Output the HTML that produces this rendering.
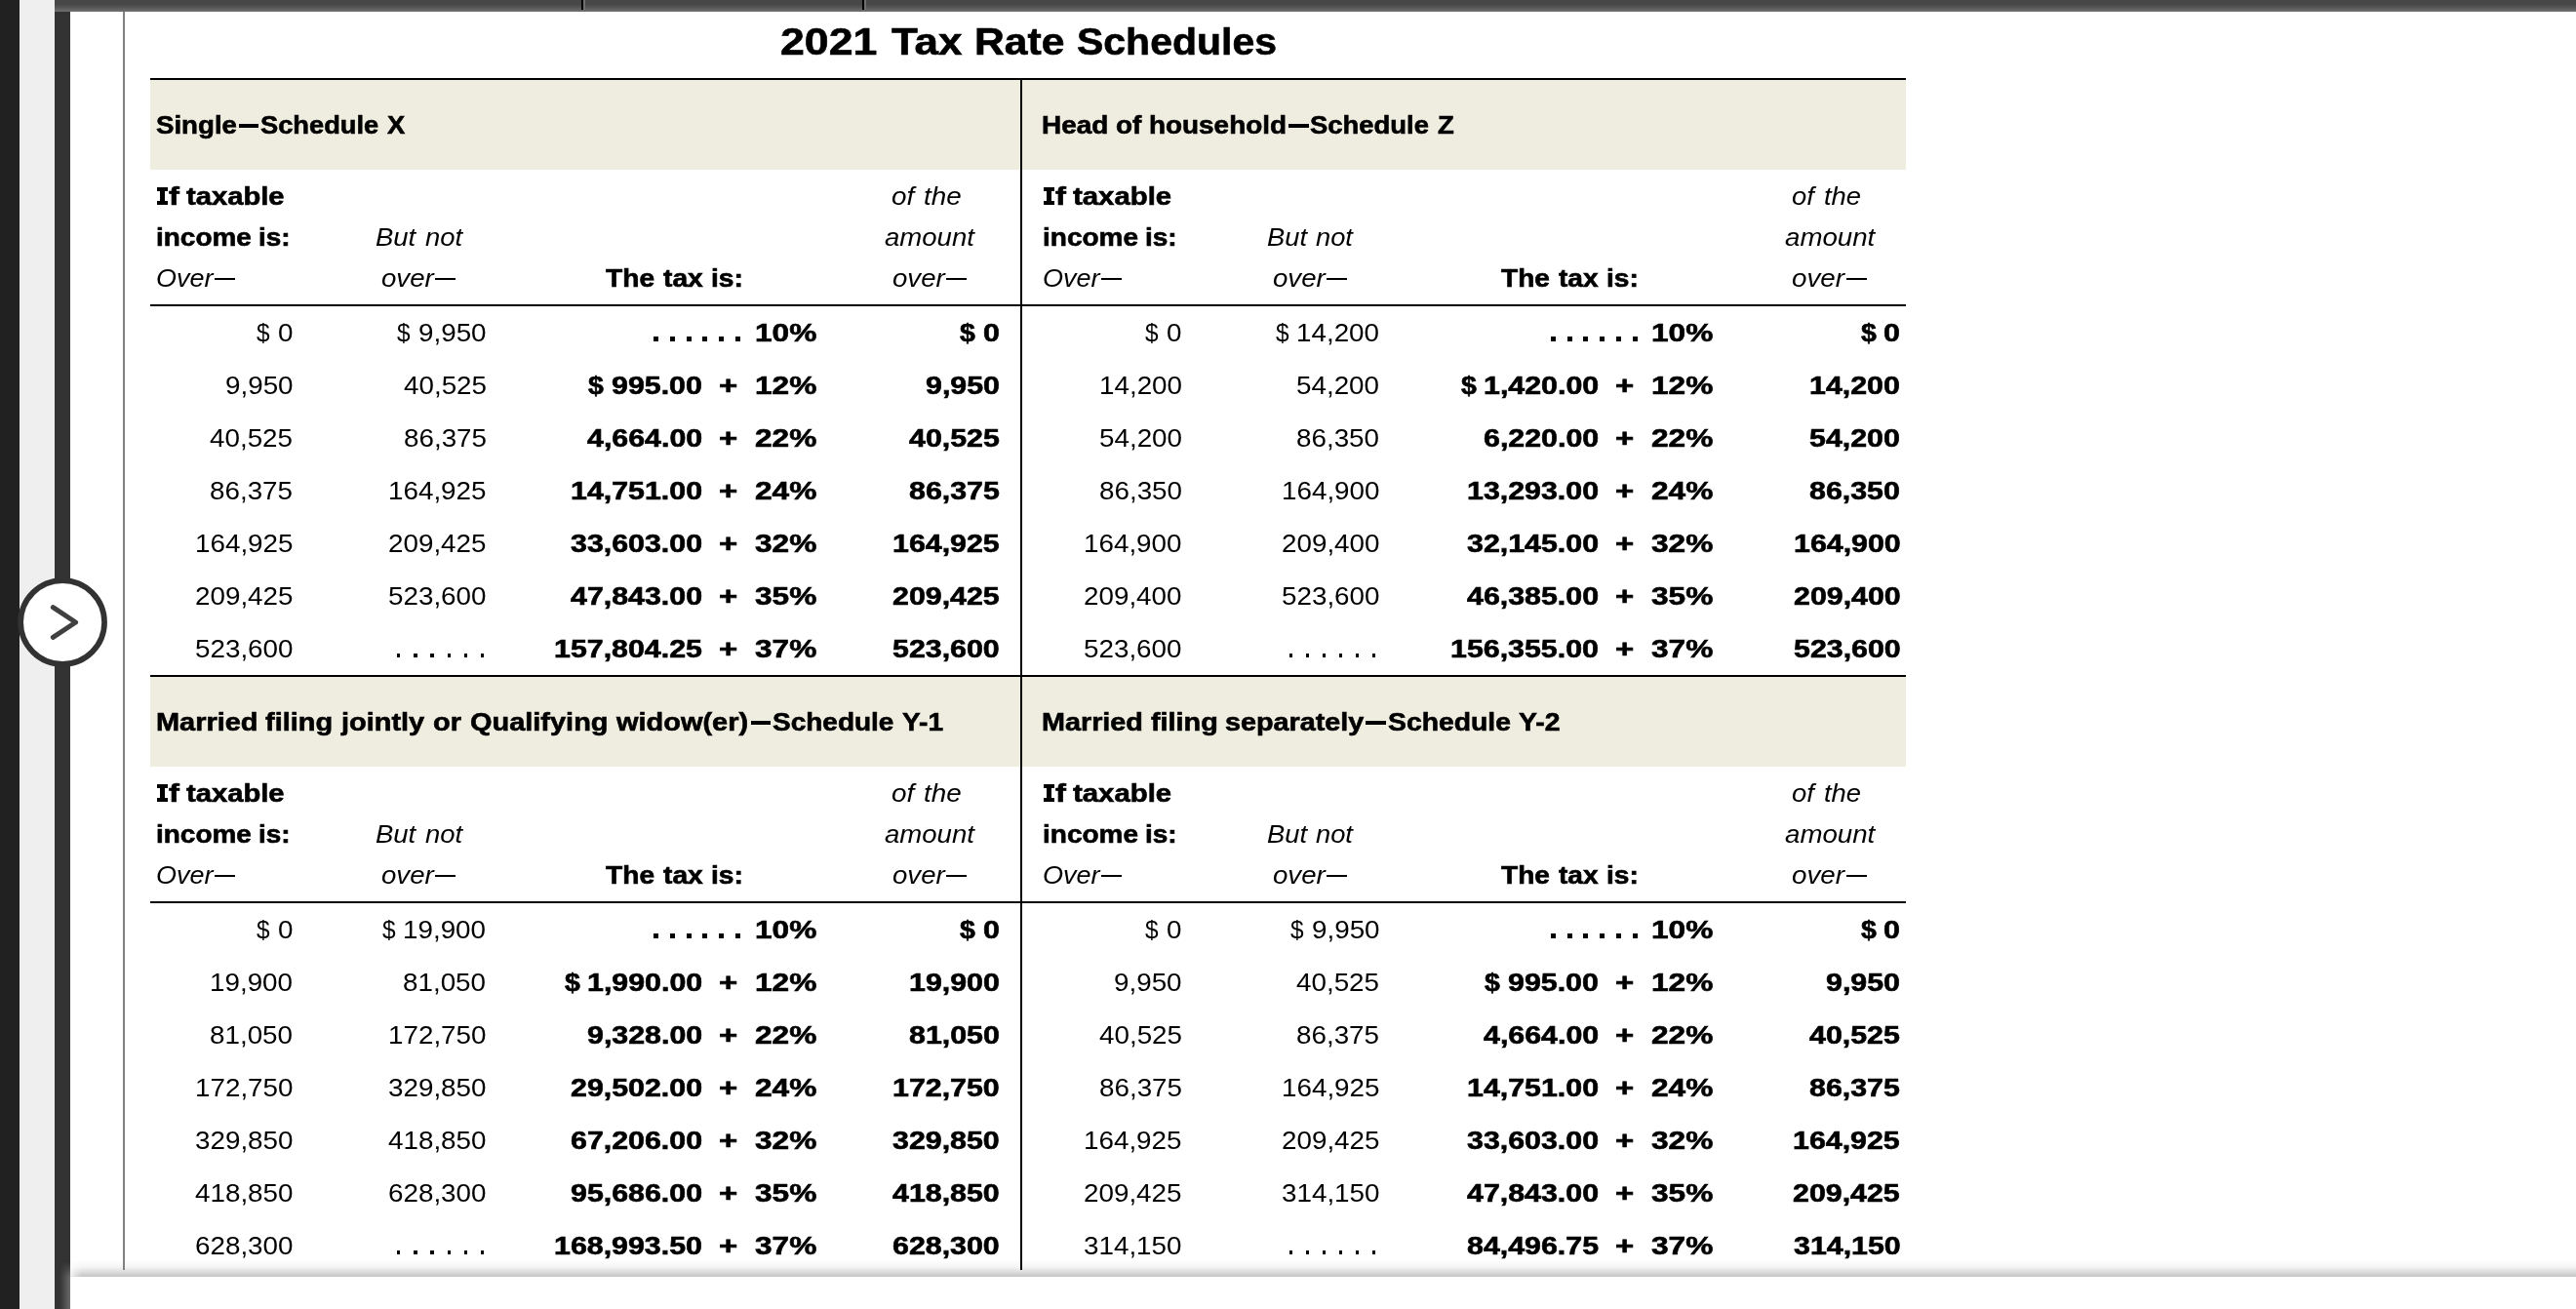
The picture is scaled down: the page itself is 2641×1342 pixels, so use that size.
<!DOCTYPE html>
<html><head><meta charset="utf-8"><title>2021 Tax Rate Schedules</title>
<style>
html,body{margin:0;padding:0;width:2641px;height:1342px;overflow:hidden;background:#fff}
body{position:relative;font-family:"Liberation Sans",sans-serif}
.a{position:absolute;display:block}
.t{position:absolute;white-space:pre;line-height:0;font-family:"Liberation Sans",sans-serif;font-size:25.4px;color:#000;transform-origin:0 0}
.b{font-weight:bold;-webkit-text-stroke:0.6px #000}
.i{font-style:italic}
.d{position:absolute;display:block;background:#000}
</style></head>
<body>
<!-- browser chrome -->
<div class="a" style="left:0;top:0;width:20px;height:1342px;background:#212121"></div>
<div class="a" style="left:20px;top:0;width:36px;height:1342px;background:#efefef"></div>
<div class="a" style="left:56px;top:0;width:16px;height:1342px;background:#333"></div>
<div class="a" style="left:56px;top:0;width:2585px;height:12px;background:linear-gradient(#474747 0,#474747 35%,#525252 58%,#666 85%,#6e6e6e 100%)"></div>
<div class="a" style="left:596px;top:0;width:2px;height:10px;background:#000"></div>
<div class="a" style="left:598px;top:0;width:2px;height:10px;background:#707070"></div>
<div class="a" style="left:884px;top:0;width:2px;height:10px;background:#000"></div>
<div class="a" style="left:886px;top:0;width:2px;height:10px;background:#707070"></div>
<div class="a" style="left:72px;top:1292px;width:2569px;height:17px;background:linear-gradient(rgba(0,0,0,0) 0,rgba(0,0,0,.04) 40%,rgba(0,0,0,.15) 75%,rgba(0,0,0,.23) 100%);-webkit-mask-image:linear-gradient(to right,rgba(0,0,0,.25) 0,#000 12px);mask-image:linear-gradient(to right,rgba(0,0,0,.25) 0,#000 12px)"></div>
<div class="a" style="left:126px;top:12px;width:2px;height:1290px;background:#808080"></div>
<div class="a" style="left:61px;top:1294px;width:11px;height:48px;background:linear-gradient(to right,rgba(255,255,255,0),rgba(255,255,255,.27));-webkit-mask-image:linear-gradient(to bottom,transparent 0,#000 32%);mask-image:linear-gradient(to bottom,transparent 0,#000 32%)"></div>
<!-- nav button -->
<svg class="a" style="left:18px;top:591px" width="94" height="94" viewBox="0 0 94 94">
<circle cx="46.1" cy="47" r="42.95" fill="#fff" stroke="#323232" stroke-width="5.7"/>
<polyline points="36.4,31.6 59.6,47 36.4,62.4" fill="none" stroke="#404040" stroke-width="5" stroke-linecap="round" stroke-linejoin="round"/>
</svg>
<!-- table structure -->
<div class="a" style="left:154px;top:80px;width:1800px;height:2px;background:#000"></div>
<div class="a" style="left:154px;top:82px;width:1800px;height:92px;background:#efeddf"></div>
<div class="a" style="left:154px;top:312px;width:1800px;height:2px;background:#000"></div>
<div class="a" style="left:154px;top:692px;width:1800px;height:2px;background:#000"></div>
<div class="a" style="left:154px;top:694px;width:1800px;height:92px;background:#efeddf"></div>
<div class="a" style="left:154px;top:924px;width:1800px;height:2px;background:#000"></div>
<div class="a" style="left:1046px;top:82px;width:2px;height:1220px;background:#000"></div>
<div class="a" style="left:0;top:0;width:2641px;height:1342px;will-change:transform">
<div class="t b" style="left:800.35px;top:43px;font-size:38.4px;transform:scaleX(1.1638)">2021</div>
<div class="t b" style="left:913.61px;top:43px;font-size:38.4px;transform:scaleX(1.1455)">Tax</div>
<div class="t b" style="left:998.94px;top:43px;font-size:38.4px;transform:scaleX(1.1118)">Rate</div>
<div class="t b" style="left:1104.12px;top:43px;font-size:38.4px;transform:scaleX(1.0674)">Schedules</div>
<div class="t b" style="left:159.90px;top:128px;transform:scaleX(1.0887)">Single</div>
<div class="t b" style="left:267.21px;top:128px;transform:scaleX(1.0738)">Schedule</div>
<div class="t b" style="left:397.45px;top:128px;transform:scaleX(1.0738)">X</div>
<div class="t b" style="left:172.74px;top:201px;transform:scaleX(1.2886)">f</div>
<div class="t b" style="left:190.64px;top:201px;transform:scaleX(1.1491)">taxable</div>
<div class="t b" style="left:159.85px;top:243px;transform:scaleX(1.1006)">income</div>
<div class="t b" style="left:264.98px;top:243px;transform:scaleX(1.1006)">is:</div>
<div class="t i" style="left:159.54px;top:285px;transform:scaleX(1.0624)">Over</div>
<div class="t i" style="left:385.45px;top:243px;transform:scaleX(1.0816)">But</div>
<div class="t i" style="left:435.87px;top:243px;transform:scaleX(1.0816)">not</div>
<div class="t i" style="left:390.70px;top:285px;transform:scaleX(1.0887)">over</div>
<div class="t b" style="left:621.18px;top:285px;transform:scaleX(1.1108)">The</div>
<div class="t b" style="left:680.22px;top:285px;transform:scaleX(1.1108)">tax</div>
<div class="t b" style="left:729.00px;top:285px;transform:scaleX(1.1108)">is:</div>
<div class="t i" style="left:913.89px;top:201px;transform:scaleX(1.0980)">of</div>
<div class="t i" style="left:946.98px;top:201px;transform:scaleX(1.0980)">the</div>
<div class="t i" style="left:907.38px;top:243px;transform:scaleX(1.0847)">amount</div>
<div class="t i" style="left:914.90px;top:285px;transform:scaleX(1.0867)">over</div>
<div class="t" style="left:284.62px;top:341px;transform:scaleX(1.0950)">0</div>
<div class="t" style="left:262.54px;top:341px;transform:scaleX(0.9600)">$</div>
<div class="t" style="left:428.91px;top:341px;transform:scaleX(1.0950)">9,950</div>
<div class="t" style="left:407.05px;top:341px;transform:scaleX(0.9600)">$</div>
<div class="t b" style="left:774.06px;top:341px;transform:scaleX(1.2450)">10%</div>
<div class="t b" style="left:1007.87px;top:341px;transform:scaleX(1.1954)">0</div>
<div class="t b" style="left:984.05px;top:341px;transform:scaleX(1.1200)">$</div>
<div class="t" style="left:230.51px;top:395px;transform:scaleX(1.0950)">9,950</div>
<div class="t" style="left:413.53px;top:395px;transform:scaleX(1.0950)">40,525</div>
<div class="t b" style="left:627.31px;top:395px;transform:scaleX(1.1954)">995.00</div>
<div class="t b" style="left:603.35px;top:395px;transform:scaleX(1.1200)">$</div>
<div class="t b" style="left:737.42px;top:395px;transform:scaleX(1.2960)">+</div>
<div class="t b" style="left:774.06px;top:395px;transform:scaleX(1.2450)">12%</div>
<div class="t b" style="left:948.79px;top:395px;transform:scaleX(1.1954)">9,950</div>
<div class="t" style="left:215.13px;top:449px;transform:scaleX(1.0950)">40,525</div>
<div class="t" style="left:413.53px;top:449px;transform:scaleX(1.0950)">86,375</div>
<div class="t b" style="left:602.00px;top:449px;transform:scaleX(1.1954)">4,664.00</div>
<div class="t b" style="left:737.42px;top:449px;transform:scaleX(1.2960)">+</div>
<div class="t b" style="left:774.06px;top:449px;transform:scaleX(1.2450)">22%</div>
<div class="t b" style="left:931.51px;top:449px;transform:scaleX(1.1954)">40,525</div>
<div class="t" style="left:215.13px;top:503px;transform:scaleX(1.0950)">86,375</div>
<div class="t" style="left:398.07px;top:503px;transform:scaleX(1.0950)">164,925</div>
<div class="t b" style="left:585.12px;top:503px;transform:scaleX(1.1954)">14,751.00</div>
<div class="t b" style="left:737.42px;top:503px;transform:scaleX(1.2960)">+</div>
<div class="t b" style="left:774.06px;top:503px;transform:scaleX(1.2450)">24%</div>
<div class="t b" style="left:931.51px;top:503px;transform:scaleX(1.1954)">86,375</div>
<div class="t" style="left:199.67px;top:557px;transform:scaleX(1.0950)">164,925</div>
<div class="t" style="left:398.07px;top:557px;transform:scaleX(1.0950)">209,425</div>
<div class="t b" style="left:585.12px;top:557px;transform:scaleX(1.1954)">33,603.00</div>
<div class="t b" style="left:737.42px;top:557px;transform:scaleX(1.2960)">+</div>
<div class="t b" style="left:774.06px;top:557px;transform:scaleX(1.2450)">32%</div>
<div class="t b" style="left:914.63px;top:557px;transform:scaleX(1.1954)">164,925</div>
<div class="t" style="left:199.67px;top:611px;transform:scaleX(1.0950)">209,425</div>
<div class="t" style="left:397.99px;top:611px;transform:scaleX(1.0950)">523,600</div>
<div class="t b" style="left:585.12px;top:611px;transform:scaleX(1.1954)">47,843.00</div>
<div class="t b" style="left:737.42px;top:611px;transform:scaleX(1.2960)">+</div>
<div class="t b" style="left:774.06px;top:611px;transform:scaleX(1.2450)">35%</div>
<div class="t b" style="left:914.63px;top:611px;transform:scaleX(1.1954)">209,425</div>
<div class="t" style="left:199.59px;top:665px;transform:scaleX(1.0950)">523,600</div>
<div class="t b" style="left:567.84px;top:665px;transform:scaleX(1.1954)">157,804.25</div>
<div class="t b" style="left:737.42px;top:665px;transform:scaleX(1.2960)">+</div>
<div class="t b" style="left:774.06px;top:665px;transform:scaleX(1.2450)">37%</div>
<div class="t b" style="left:915.03px;top:665px;transform:scaleX(1.1954)">523,600</div>
<div class="t b" style="left:1068.03px;top:128px;transform:scaleX(1.0985)">Head</div>
<div class="t b" style="left:1143.51px;top:128px;transform:scaleX(1.0985)">of</div>
<div class="t b" style="left:1178.14px;top:128px;transform:scaleX(1.0985)">household</div>
<div class="t b" style="left:1343.41px;top:128px;transform:scaleX(1.0798)">Schedule</div>
<div class="t b" style="left:1473.74px;top:128px;transform:scaleX(1.0798)">Z</div>
<div class="t b" style="left:1081.74px;top:201px;transform:scaleX(1.2886)">f</div>
<div class="t b" style="left:1099.64px;top:201px;transform:scaleX(1.1561)">taxable</div>
<div class="t b" style="left:1068.84px;top:243px;transform:scaleX(1.1033)">income</div>
<div class="t b" style="left:1174.20px;top:243px;transform:scaleX(1.1033)">is:</div>
<div class="t i" style="left:1068.53px;top:285px;transform:scaleX(1.0642)">Over</div>
<div class="t i" style="left:1299.06px;top:243px;transform:scaleX(1.0748)">But</div>
<div class="t i" style="left:1349.22px;top:243px;transform:scaleX(1.0748)">not</div>
<div class="t i" style="left:1304.60px;top:285px;transform:scaleX(1.0887)">over</div>
<div class="t b" style="left:1539.48px;top:285px;transform:scaleX(1.1070)">The</div>
<div class="t b" style="left:1598.35px;top:285px;transform:scaleX(1.1070)">tax</div>
<div class="t b" style="left:1647.00px;top:285px;transform:scaleX(1.1070)">is:</div>
<div class="t i" style="left:1837.20px;top:201px;transform:scaleX(1.0800)">of</div>
<div class="t i" style="left:1869.90px;top:201px;transform:scaleX(1.0800)">the</div>
<div class="t i" style="left:1829.68px;top:243px;transform:scaleX(1.0894)">amount</div>
<div class="t i" style="left:1837.19px;top:285px;transform:scaleX(1.0948)">over</div>
<div class="t" style="left:1196.32px;top:341px;transform:scaleX(1.0950)">0</div>
<div class="t" style="left:1174.24px;top:341px;transform:scaleX(0.9600)">$</div>
<div class="t" style="left:1329.05px;top:341px;transform:scaleX(1.0950)">14,200</div>
<div class="t" style="left:1308.00px;top:341px;transform:scaleX(0.9600)">$</div>
<div class="t b" style="left:1693.26px;top:341px;transform:scaleX(1.2450)">10%</div>
<div class="t b" style="left:1931.37px;top:341px;transform:scaleX(1.1954)">0</div>
<div class="t b" style="left:1907.55px;top:341px;transform:scaleX(1.1200)">$</div>
<div class="t" style="left:1126.75px;top:395px;transform:scaleX(1.0950)">14,200</div>
<div class="t" style="left:1329.05px;top:395px;transform:scaleX(1.0950)">54,200</div>
<div class="t b" style="left:1521.00px;top:395px;transform:scaleX(1.1954)">1,420.00</div>
<div class="t b" style="left:1497.89px;top:395px;transform:scaleX(1.1200)">$</div>
<div class="t b" style="left:1656.42px;top:395px;transform:scaleX(1.2960)">+</div>
<div class="t b" style="left:1693.26px;top:395px;transform:scaleX(1.2450)">12%</div>
<div class="t b" style="left:1855.41px;top:395px;transform:scaleX(1.1954)">14,200</div>
<div class="t" style="left:1126.75px;top:449px;transform:scaleX(1.0950)">54,200</div>
<div class="t" style="left:1329.05px;top:449px;transform:scaleX(1.0950)">86,350</div>
<div class="t b" style="left:1521.00px;top:449px;transform:scaleX(1.1954)">6,220.00</div>
<div class="t b" style="left:1656.42px;top:449px;transform:scaleX(1.2960)">+</div>
<div class="t b" style="left:1693.26px;top:449px;transform:scaleX(1.2450)">22%</div>
<div class="t b" style="left:1855.41px;top:449px;transform:scaleX(1.1954)">54,200</div>
<div class="t" style="left:1126.75px;top:503px;transform:scaleX(1.0950)">86,350</div>
<div class="t" style="left:1313.59px;top:503px;transform:scaleX(1.0950)">164,900</div>
<div class="t b" style="left:1504.12px;top:503px;transform:scaleX(1.1954)">13,293.00</div>
<div class="t b" style="left:1656.42px;top:503px;transform:scaleX(1.2960)">+</div>
<div class="t b" style="left:1693.26px;top:503px;transform:scaleX(1.2450)">24%</div>
<div class="t b" style="left:1855.41px;top:503px;transform:scaleX(1.1954)">86,350</div>
<div class="t" style="left:1111.29px;top:557px;transform:scaleX(1.0950)">164,900</div>
<div class="t" style="left:1313.59px;top:557px;transform:scaleX(1.0950)">209,400</div>
<div class="t b" style="left:1504.12px;top:557px;transform:scaleX(1.1954)">32,145.00</div>
<div class="t b" style="left:1656.42px;top:557px;transform:scaleX(1.2960)">+</div>
<div class="t b" style="left:1693.26px;top:557px;transform:scaleX(1.2450)">32%</div>
<div class="t b" style="left:1838.53px;top:557px;transform:scaleX(1.1954)">164,900</div>
<div class="t" style="left:1111.29px;top:611px;transform:scaleX(1.0950)">209,400</div>
<div class="t" style="left:1313.59px;top:611px;transform:scaleX(1.0950)">523,600</div>
<div class="t b" style="left:1504.12px;top:611px;transform:scaleX(1.1954)">46,385.00</div>
<div class="t b" style="left:1656.42px;top:611px;transform:scaleX(1.2960)">+</div>
<div class="t b" style="left:1693.26px;top:611px;transform:scaleX(1.2450)">35%</div>
<div class="t b" style="left:1838.53px;top:611px;transform:scaleX(1.1954)">209,400</div>
<div class="t" style="left:1111.29px;top:665px;transform:scaleX(1.0950)">523,600</div>
<div class="t b" style="left:1487.24px;top:665px;transform:scaleX(1.1954)">156,355.00</div>
<div class="t b" style="left:1656.42px;top:665px;transform:scaleX(1.2960)">+</div>
<div class="t b" style="left:1693.26px;top:665px;transform:scaleX(1.2450)">37%</div>
<div class="t b" style="left:1838.53px;top:665px;transform:scaleX(1.1954)">523,600</div>
<div class="t b" style="left:160.06px;top:740px;transform:scaleX(1.1398)">Married</div>
<div class="t b" style="left:272.40px;top:740px;transform:scaleX(1.1398)">filing</div>
<div class="t b" style="left:350.23px;top:740px;transform:scaleX(1.1398)">jointly</div>
<div class="t b" style="left:444.35px;top:740px;transform:scaleX(1.1398)">or</div>
<div class="t b" style="left:481.86px;top:740px;transform:scaleX(1.1398)">Qualifying</div>
<div class="t b" style="left:631.70px;top:740px;transform:scaleX(1.1398)">widow(er)</div>
<div class="t b" style="left:791.99px;top:740px;transform:scaleX(1.1022)">Schedule</div>
<div class="t b" style="left:925.17px;top:740px;transform:scaleX(1.1022)">Y-1</div>
<div class="t b" style="left:172.74px;top:813px;transform:scaleX(1.2886)">f</div>
<div class="t b" style="left:190.64px;top:813px;transform:scaleX(1.1491)">taxable</div>
<div class="t b" style="left:159.85px;top:855px;transform:scaleX(1.1006)">income</div>
<div class="t b" style="left:264.98px;top:855px;transform:scaleX(1.1006)">is:</div>
<div class="t i" style="left:159.54px;top:897px;transform:scaleX(1.0624)">Over</div>
<div class="t i" style="left:385.45px;top:855px;transform:scaleX(1.0816)">But</div>
<div class="t i" style="left:435.87px;top:855px;transform:scaleX(1.0816)">not</div>
<div class="t i" style="left:390.70px;top:897px;transform:scaleX(1.0887)">over</div>
<div class="t b" style="left:621.18px;top:897px;transform:scaleX(1.1108)">The</div>
<div class="t b" style="left:680.22px;top:897px;transform:scaleX(1.1108)">tax</div>
<div class="t b" style="left:729.00px;top:897px;transform:scaleX(1.1108)">is:</div>
<div class="t i" style="left:913.89px;top:813px;transform:scaleX(1.0980)">of</div>
<div class="t i" style="left:946.98px;top:813px;transform:scaleX(1.0980)">the</div>
<div class="t i" style="left:907.38px;top:855px;transform:scaleX(1.0847)">amount</div>
<div class="t i" style="left:914.90px;top:897px;transform:scaleX(1.0867)">over</div>
<div class="t" style="left:284.62px;top:953px;transform:scaleX(1.0950)">0</div>
<div class="t" style="left:262.54px;top:953px;transform:scaleX(0.9600)">$</div>
<div class="t" style="left:413.45px;top:953px;transform:scaleX(1.0950)">19,900</div>
<div class="t" style="left:392.40px;top:953px;transform:scaleX(0.9600)">$</div>
<div class="t b" style="left:774.06px;top:953px;transform:scaleX(1.2450)">10%</div>
<div class="t b" style="left:1007.87px;top:953px;transform:scaleX(1.1954)">0</div>
<div class="t b" style="left:984.05px;top:953px;transform:scaleX(1.1200)">$</div>
<div class="t" style="left:215.05px;top:1007px;transform:scaleX(1.0950)">19,900</div>
<div class="t" style="left:413.45px;top:1007px;transform:scaleX(1.0950)">81,050</div>
<div class="t b" style="left:602.00px;top:1007px;transform:scaleX(1.1954)">1,990.00</div>
<div class="t b" style="left:578.89px;top:1007px;transform:scaleX(1.1200)">$</div>
<div class="t b" style="left:737.42px;top:1007px;transform:scaleX(1.2960)">+</div>
<div class="t b" style="left:774.06px;top:1007px;transform:scaleX(1.2450)">12%</div>
<div class="t b" style="left:931.91px;top:1007px;transform:scaleX(1.1954)">19,900</div>
<div class="t" style="left:215.05px;top:1061px;transform:scaleX(1.0950)">81,050</div>
<div class="t" style="left:397.99px;top:1061px;transform:scaleX(1.0950)">172,750</div>
<div class="t b" style="left:602.00px;top:1061px;transform:scaleX(1.1954)">9,328.00</div>
<div class="t b" style="left:737.42px;top:1061px;transform:scaleX(1.2960)">+</div>
<div class="t b" style="left:774.06px;top:1061px;transform:scaleX(1.2450)">22%</div>
<div class="t b" style="left:931.91px;top:1061px;transform:scaleX(1.1954)">81,050</div>
<div class="t" style="left:199.59px;top:1115px;transform:scaleX(1.0950)">172,750</div>
<div class="t" style="left:397.99px;top:1115px;transform:scaleX(1.0950)">329,850</div>
<div class="t b" style="left:585.12px;top:1115px;transform:scaleX(1.1954)">29,502.00</div>
<div class="t b" style="left:737.42px;top:1115px;transform:scaleX(1.2960)">+</div>
<div class="t b" style="left:774.06px;top:1115px;transform:scaleX(1.2450)">24%</div>
<div class="t b" style="left:915.03px;top:1115px;transform:scaleX(1.1954)">172,750</div>
<div class="t" style="left:199.59px;top:1169px;transform:scaleX(1.0950)">329,850</div>
<div class="t" style="left:397.99px;top:1169px;transform:scaleX(1.0950)">418,850</div>
<div class="t b" style="left:585.12px;top:1169px;transform:scaleX(1.1954)">67,206.00</div>
<div class="t b" style="left:737.42px;top:1169px;transform:scaleX(1.2960)">+</div>
<div class="t b" style="left:774.06px;top:1169px;transform:scaleX(1.2450)">32%</div>
<div class="t b" style="left:915.03px;top:1169px;transform:scaleX(1.1954)">329,850</div>
<div class="t" style="left:199.59px;top:1223px;transform:scaleX(1.0950)">418,850</div>
<div class="t" style="left:397.99px;top:1223px;transform:scaleX(1.0950)">628,300</div>
<div class="t b" style="left:585.12px;top:1223px;transform:scaleX(1.1954)">95,686.00</div>
<div class="t b" style="left:737.42px;top:1223px;transform:scaleX(1.2960)">+</div>
<div class="t b" style="left:774.06px;top:1223px;transform:scaleX(1.2450)">35%</div>
<div class="t b" style="left:915.03px;top:1223px;transform:scaleX(1.1954)">418,850</div>
<div class="t" style="left:199.59px;top:1277px;transform:scaleX(1.0950)">628,300</div>
<div class="t b" style="left:568.24px;top:1277px;transform:scaleX(1.1954)">168,993.50</div>
<div class="t b" style="left:737.42px;top:1277px;transform:scaleX(1.2960)">+</div>
<div class="t b" style="left:774.06px;top:1277px;transform:scaleX(1.2450)">37%</div>
<div class="t b" style="left:915.03px;top:1277px;transform:scaleX(1.1954)">628,300</div>
<div class="t b" style="left:1067.97px;top:740px;transform:scaleX(1.1332)">Married</div>
<div class="t b" style="left:1179.72px;top:740px;transform:scaleX(1.1332)">filing</div>
<div class="t b" style="left:1255.70px;top:740px;transform:scaleX(1.1332)">separately</div>
<div class="t b" style="left:1422.58px;top:740px;transform:scaleX(1.1153)">Schedule</div>
<div class="t b" style="left:1557.23px;top:740px;transform:scaleX(1.1153)">Y-2</div>
<div class="t b" style="left:1081.74px;top:813px;transform:scaleX(1.2886)">f</div>
<div class="t b" style="left:1099.64px;top:813px;transform:scaleX(1.1561)">taxable</div>
<div class="t b" style="left:1068.84px;top:855px;transform:scaleX(1.1033)">income</div>
<div class="t b" style="left:1174.20px;top:855px;transform:scaleX(1.1033)">is:</div>
<div class="t i" style="left:1068.53px;top:897px;transform:scaleX(1.0642)">Over</div>
<div class="t i" style="left:1299.06px;top:855px;transform:scaleX(1.0748)">But</div>
<div class="t i" style="left:1349.22px;top:855px;transform:scaleX(1.0748)">not</div>
<div class="t i" style="left:1304.60px;top:897px;transform:scaleX(1.0887)">over</div>
<div class="t b" style="left:1539.48px;top:897px;transform:scaleX(1.1070)">The</div>
<div class="t b" style="left:1598.35px;top:897px;transform:scaleX(1.1070)">tax</div>
<div class="t b" style="left:1647.00px;top:897px;transform:scaleX(1.1070)">is:</div>
<div class="t i" style="left:1837.20px;top:813px;transform:scaleX(1.0800)">of</div>
<div class="t i" style="left:1869.90px;top:813px;transform:scaleX(1.0800)">the</div>
<div class="t i" style="left:1829.68px;top:855px;transform:scaleX(1.0894)">amount</div>
<div class="t i" style="left:1837.19px;top:897px;transform:scaleX(1.0948)">over</div>
<div class="t" style="left:1196.32px;top:953px;transform:scaleX(1.0950)">0</div>
<div class="t" style="left:1174.24px;top:953px;transform:scaleX(0.9600)">$</div>
<div class="t" style="left:1344.51px;top:953px;transform:scaleX(1.0950)">9,950</div>
<div class="t" style="left:1322.65px;top:953px;transform:scaleX(0.9600)">$</div>
<div class="t b" style="left:1693.26px;top:953px;transform:scaleX(1.2450)">10%</div>
<div class="t b" style="left:1931.37px;top:953px;transform:scaleX(1.1954)">0</div>
<div class="t b" style="left:1907.55px;top:953px;transform:scaleX(1.1200)">$</div>
<div class="t" style="left:1142.21px;top:1007px;transform:scaleX(1.0950)">9,950</div>
<div class="t" style="left:1329.13px;top:1007px;transform:scaleX(1.0950)">40,525</div>
<div class="t b" style="left:1546.31px;top:1007px;transform:scaleX(1.1954)">995.00</div>
<div class="t b" style="left:1522.35px;top:1007px;transform:scaleX(1.1200)">$</div>
<div class="t b" style="left:1656.42px;top:1007px;transform:scaleX(1.2960)">+</div>
<div class="t b" style="left:1693.26px;top:1007px;transform:scaleX(1.2450)">12%</div>
<div class="t b" style="left:1872.29px;top:1007px;transform:scaleX(1.1954)">9,950</div>
<div class="t" style="left:1126.83px;top:1061px;transform:scaleX(1.0950)">40,525</div>
<div class="t" style="left:1329.13px;top:1061px;transform:scaleX(1.0950)">86,375</div>
<div class="t b" style="left:1521.00px;top:1061px;transform:scaleX(1.1954)">4,664.00</div>
<div class="t b" style="left:1656.42px;top:1061px;transform:scaleX(1.2960)">+</div>
<div class="t b" style="left:1693.26px;top:1061px;transform:scaleX(1.2450)">22%</div>
<div class="t b" style="left:1855.01px;top:1061px;transform:scaleX(1.1954)">40,525</div>
<div class="t" style="left:1126.83px;top:1115px;transform:scaleX(1.0950)">86,375</div>
<div class="t" style="left:1313.67px;top:1115px;transform:scaleX(1.0950)">164,925</div>
<div class="t b" style="left:1504.12px;top:1115px;transform:scaleX(1.1954)">14,751.00</div>
<div class="t b" style="left:1656.42px;top:1115px;transform:scaleX(1.2960)">+</div>
<div class="t b" style="left:1693.26px;top:1115px;transform:scaleX(1.2450)">24%</div>
<div class="t b" style="left:1855.01px;top:1115px;transform:scaleX(1.1954)">86,375</div>
<div class="t" style="left:1111.37px;top:1169px;transform:scaleX(1.0950)">164,925</div>
<div class="t" style="left:1313.67px;top:1169px;transform:scaleX(1.0950)">209,425</div>
<div class="t b" style="left:1504.12px;top:1169px;transform:scaleX(1.1954)">33,603.00</div>
<div class="t b" style="left:1656.42px;top:1169px;transform:scaleX(1.2960)">+</div>
<div class="t b" style="left:1693.26px;top:1169px;transform:scaleX(1.2450)">32%</div>
<div class="t b" style="left:1838.13px;top:1169px;transform:scaleX(1.1954)">164,925</div>
<div class="t" style="left:1111.37px;top:1223px;transform:scaleX(1.0950)">209,425</div>
<div class="t" style="left:1313.59px;top:1223px;transform:scaleX(1.0950)">314,150</div>
<div class="t b" style="left:1504.12px;top:1223px;transform:scaleX(1.1954)">47,843.00</div>
<div class="t b" style="left:1656.42px;top:1223px;transform:scaleX(1.2960)">+</div>
<div class="t b" style="left:1693.26px;top:1223px;transform:scaleX(1.2450)">35%</div>
<div class="t b" style="left:1838.13px;top:1223px;transform:scaleX(1.1954)">209,425</div>
<div class="t" style="left:1111.29px;top:1277px;transform:scaleX(1.0950)">314,150</div>
<div class="t b" style="left:1503.72px;top:1277px;transform:scaleX(1.1954)">84,496.75</div>
<div class="t b" style="left:1656.42px;top:1277px;transform:scaleX(1.2960)">+</div>
<div class="t b" style="left:1693.26px;top:1277px;transform:scaleX(1.2450)">37%</div>
<div class="t b" style="left:1838.53px;top:1277px;transform:scaleX(1.1954)">314,150</div>
</div>
<i class="d" style="left:244.8px;top:127.4px;width:20.2px;height:3.4px"></i>
<i class="d" style="left:161.0px;top:191.9px;width:10.8px;height:3.7px"></i>
<i class="d" style="left:164.2px;top:191.9px;width:4.5px;height:18.1px"></i>
<i class="d" style="left:161.0px;top:206.3px;width:10.8px;height:3.7px"></i>
<i class="d" style="left:219.5px;top:285.2px;width:21.0px;height:2.0px"></i>
<i class="d" style="left:446.0px;top:285.2px;width:21.0px;height:2.0px"></i>
<i class="d" style="left:970.1px;top:285.2px;width:21.0px;height:2.0px"></i>
<i class="d" style="left:670.0px;top:344.8px;width:5.1px;height:5.2px"></i>
<i class="d" style="left:686.8px;top:344.8px;width:5.1px;height:5.2px"></i>
<i class="d" style="left:703.6px;top:344.8px;width:5.1px;height:5.2px"></i>
<i class="d" style="left:720.4px;top:344.8px;width:5.1px;height:5.2px"></i>
<i class="d" style="left:737.2px;top:344.8px;width:5.1px;height:5.2px"></i>
<i class="d" style="left:754.0px;top:344.8px;width:5.1px;height:5.2px"></i>
<i class="d" style="left:407.2px;top:670.4px;width:3.3px;height:3.6px"></i>
<i class="d" style="left:424.3px;top:670.4px;width:3.3px;height:3.6px"></i>
<i class="d" style="left:441.4px;top:670.4px;width:3.3px;height:3.6px"></i>
<i class="d" style="left:458.5px;top:670.4px;width:3.3px;height:3.6px"></i>
<i class="d" style="left:475.6px;top:670.4px;width:3.3px;height:3.6px"></i>
<i class="d" style="left:492.7px;top:670.4px;width:3.3px;height:3.6px"></i>
<i class="d" style="left:1321.1px;top:127.4px;width:20.6px;height:3.4px"></i>
<i class="d" style="left:1070.0px;top:191.9px;width:10.8px;height:3.7px"></i>
<i class="d" style="left:1073.2px;top:191.9px;width:4.5px;height:18.1px"></i>
<i class="d" style="left:1070.0px;top:206.3px;width:10.8px;height:3.7px"></i>
<i class="d" style="left:1128.6px;top:285.2px;width:21.0px;height:2.0px"></i>
<i class="d" style="left:1359.9px;top:285.2px;width:21.0px;height:2.0px"></i>
<i class="d" style="left:1892.8px;top:285.2px;width:21.0px;height:2.0px"></i>
<i class="d" style="left:1589.7px;top:344.8px;width:5.1px;height:5.2px"></i>
<i class="d" style="left:1606.5px;top:344.8px;width:5.1px;height:5.2px"></i>
<i class="d" style="left:1623.3px;top:344.8px;width:5.1px;height:5.2px"></i>
<i class="d" style="left:1640.1px;top:344.8px;width:5.1px;height:5.2px"></i>
<i class="d" style="left:1656.9px;top:344.8px;width:5.1px;height:5.2px"></i>
<i class="d" style="left:1673.7px;top:344.8px;width:5.1px;height:5.2px"></i>
<i class="d" style="left:1321.5px;top:670.4px;width:3.3px;height:3.6px"></i>
<i class="d" style="left:1338.6px;top:670.4px;width:3.3px;height:3.6px"></i>
<i class="d" style="left:1355.7px;top:670.4px;width:3.3px;height:3.6px"></i>
<i class="d" style="left:1372.8px;top:670.4px;width:3.3px;height:3.6px"></i>
<i class="d" style="left:1389.9px;top:670.4px;width:3.3px;height:3.6px"></i>
<i class="d" style="left:1407.0px;top:670.4px;width:3.3px;height:3.6px"></i>
<i class="d" style="left:769.7px;top:739.4px;width:20.3px;height:3.4px"></i>
<i class="d" style="left:161.0px;top:803.9px;width:10.8px;height:3.7px"></i>
<i class="d" style="left:164.2px;top:803.9px;width:4.5px;height:18.1px"></i>
<i class="d" style="left:161.0px;top:818.3px;width:10.8px;height:3.7px"></i>
<i class="d" style="left:219.5px;top:897.2px;width:21.0px;height:2.0px"></i>
<i class="d" style="left:446.0px;top:897.2px;width:21.0px;height:2.0px"></i>
<i class="d" style="left:970.1px;top:897.2px;width:21.0px;height:2.0px"></i>
<i class="d" style="left:670.0px;top:956.8px;width:5.1px;height:5.2px"></i>
<i class="d" style="left:686.8px;top:956.8px;width:5.1px;height:5.2px"></i>
<i class="d" style="left:703.6px;top:956.8px;width:5.1px;height:5.2px"></i>
<i class="d" style="left:720.4px;top:956.8px;width:5.1px;height:5.2px"></i>
<i class="d" style="left:737.2px;top:956.8px;width:5.1px;height:5.2px"></i>
<i class="d" style="left:754.0px;top:956.8px;width:5.1px;height:5.2px"></i>
<i class="d" style="left:407.2px;top:1282.4px;width:3.3px;height:3.6px"></i>
<i class="d" style="left:424.3px;top:1282.4px;width:3.3px;height:3.6px"></i>
<i class="d" style="left:441.4px;top:1282.4px;width:3.3px;height:3.6px"></i>
<i class="d" style="left:458.5px;top:1282.4px;width:3.3px;height:3.6px"></i>
<i class="d" style="left:475.6px;top:1282.4px;width:3.3px;height:3.6px"></i>
<i class="d" style="left:492.7px;top:1282.4px;width:3.3px;height:3.6px"></i>
<i class="d" style="left:1400.1px;top:739.4px;width:20.6px;height:3.4px"></i>
<i class="d" style="left:1070.0px;top:803.9px;width:10.8px;height:3.7px"></i>
<i class="d" style="left:1073.2px;top:803.9px;width:4.5px;height:18.1px"></i>
<i class="d" style="left:1070.0px;top:818.3px;width:10.8px;height:3.7px"></i>
<i class="d" style="left:1128.6px;top:897.2px;width:21.0px;height:2.0px"></i>
<i class="d" style="left:1359.9px;top:897.2px;width:21.0px;height:2.0px"></i>
<i class="d" style="left:1892.8px;top:897.2px;width:21.0px;height:2.0px"></i>
<i class="d" style="left:1589.7px;top:956.8px;width:5.1px;height:5.2px"></i>
<i class="d" style="left:1606.5px;top:956.8px;width:5.1px;height:5.2px"></i>
<i class="d" style="left:1623.3px;top:956.8px;width:5.1px;height:5.2px"></i>
<i class="d" style="left:1640.1px;top:956.8px;width:5.1px;height:5.2px"></i>
<i class="d" style="left:1656.9px;top:956.8px;width:5.1px;height:5.2px"></i>
<i class="d" style="left:1673.7px;top:956.8px;width:5.1px;height:5.2px"></i>
<i class="d" style="left:1321.5px;top:1282.4px;width:3.3px;height:3.6px"></i>
<i class="d" style="left:1338.6px;top:1282.4px;width:3.3px;height:3.6px"></i>
<i class="d" style="left:1355.7px;top:1282.4px;width:3.3px;height:3.6px"></i>
<i class="d" style="left:1372.8px;top:1282.4px;width:3.3px;height:3.6px"></i>
<i class="d" style="left:1389.9px;top:1282.4px;width:3.3px;height:3.6px"></i>
<i class="d" style="left:1407.0px;top:1282.4px;width:3.3px;height:3.6px"></i>
</body></html>
